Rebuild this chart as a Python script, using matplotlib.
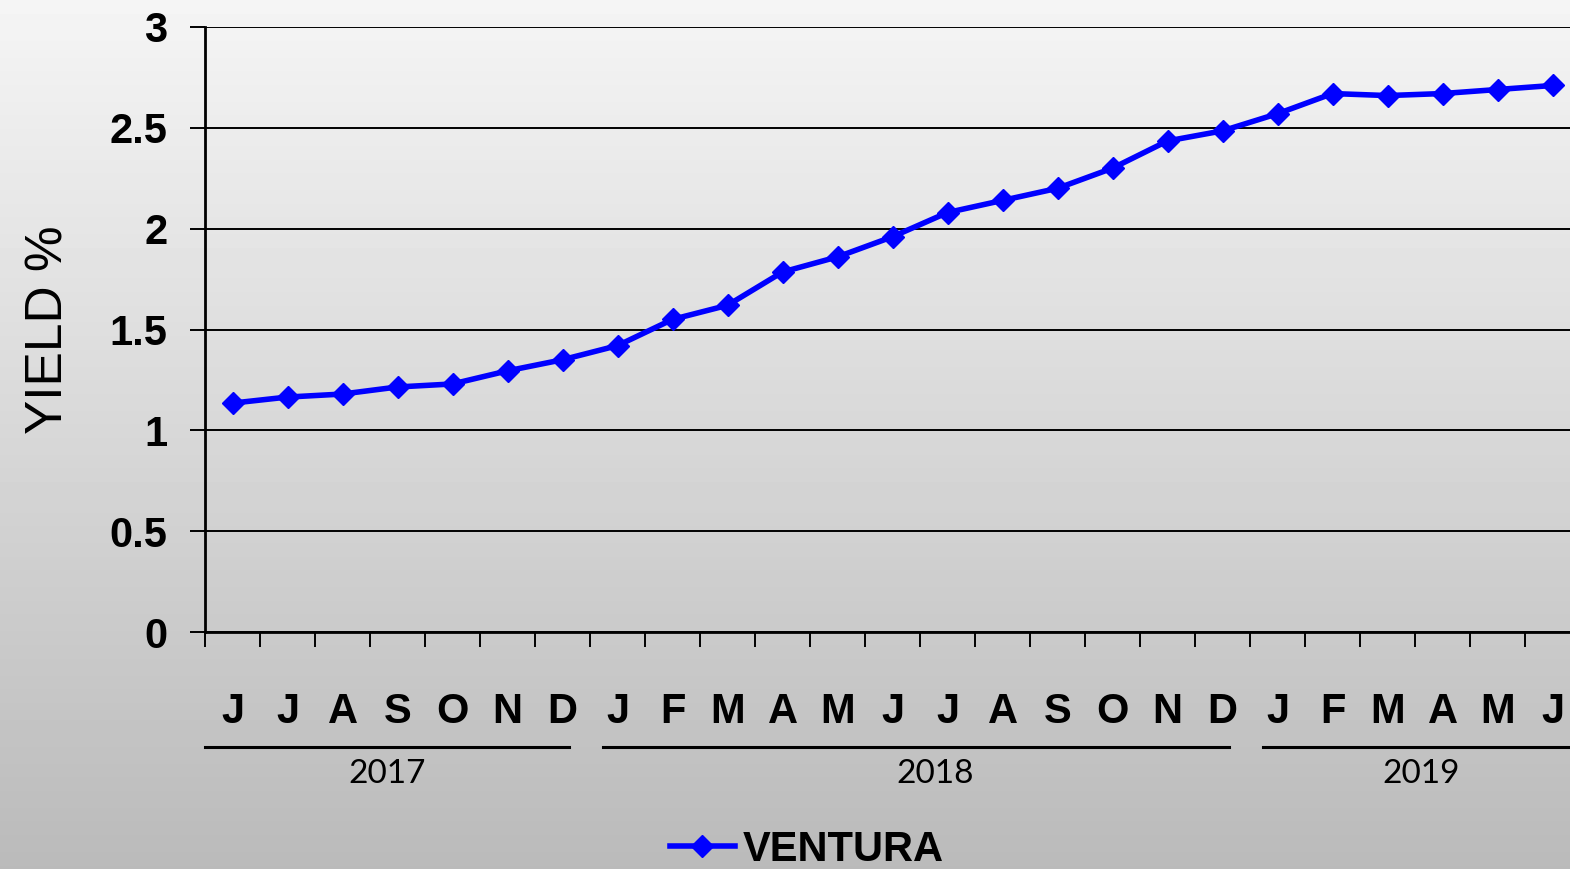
import numpy as np
import matplotlib
matplotlib.use('Agg')
import matplotlib.pyplot as plt
from matplotlib.lines import Line2D

months = ['J', 'J', 'A', 'S', 'O', 'N', 'D',
          'J', 'F', 'M', 'A', 'M', 'J', 'J', 'A', 'S', 'O', 'N', 'D',
          'J', 'F', 'M', 'A', 'M', 'J']
ventura = [1.135, 1.165, 1.18, 1.215, 1.23, 1.295, 1.35,
           1.42, 1.55, 1.62, 1.785, 1.86, 1.96, 2.08, 2.14, 2.20, 2.30, 2.435, 2.485,
           2.57, 2.67, 2.66, 2.67, 2.69, 2.71]
years = ['2017', '2018', '2019']
year_first = [0, 7, 19]
year_last = [6, 18, 24]

W, H = 1570, 869
fig = plt.figure(figsize=(W / 100, H / 100), dpi=100)

# gradient background
bg = fig.add_axes([0, 0, 1, 1], zorder=-10)
grad = np.linspace(0.96, 0.73, 256).reshape(-1, 1)
bg.imshow(grad, aspect='auto', cmap='gray', vmin=0, vmax=1,
          extent=[0, 1, 0, 1], origin='upper')
bg.axis('off')

left, right, top, bottom = 205, 1580, 27, 632
ax = fig.add_axes([left / W, 1 - bottom / H, (right - left) / W, (bottom - top) / H])
ax.patch.set_alpha(0)

x = np.arange(len(ventura))
ax.plot(x, ventura, color='#0000ff', lw=4, marker='D', markersize=11,
        zorder=3, clip_on=False)

ax.set_xlim(-0.5, len(ventura) - 0.5)
ax.set_ylim(0, 3)
ax.set_yticks(np.arange(0, 3.01, 0.5))
ax.set_yticklabels(['0', '0.5', '1', '1.5', '2', '2.5', '3'],
                   fontfamily='Liberation Sans', fontweight='bold', fontsize=30)
ax.yaxis.grid(True, color='black', lw=1.4)
ax.tick_params(axis='y', length=11, width=1.4, pad=16, color='black')

ax.set_xticks(np.arange(-0.5, len(ventura), 1.0))
ax.set_xticklabels([])
ax.tick_params(axis='x', which='major', length=11, width=1.4, color='black')
ax.set_xticks(x, minor=True)
ax.set_xticklabels(months, minor=True, fontfamily='Liberation Sans',
                   fontweight='bold', fontsize=30)
ax.tick_params(axis='x', which='minor', length=0, pad=43)

for s in ['top', 'right']:
    ax.spines[s].set_visible(False)
ax.spines['left'].set_linewidth(2)
ax.spines['bottom'].set_linewidth(2)
ax.spines['left'].set_bounds(0, 3)

ax.set_ylabel('YIELD %', fontfamily='Liberation Sans', fontsize=37, labelpad=26)

trans = ax.get_xaxis_transform()
for i, yr in enumerate(years):
    x0 = -0.5 if i == 0 else year_first[i] - 0.27
    x1 = min(year_last[i] + 0.12, len(ventura) - 0.5)
    if i == len(years) - 1:
        x1 = len(ventura) - 0.5
    ax.plot([x0, x1], [-0.19, -0.19], color='black', lw=2.2,
            transform=trans, clip_on=False)
    ax.text((x0 + x1) / 2 + (0.35 if i == 1 else 0), -0.234, yr, transform=trans,
            ha='center', va='center', fontsize=24, fontfamily='Lato')

handle = Line2D([], [], color='#0000ff', lw=4, marker='D', markersize=11)
fig.legend([handle], ['VENTURA'], loc='center', bbox_to_anchor=(0.514, 0.022),
           frameon=False, handlelength=1.55, handletextpad=0.2,
           prop={'family': 'Liberation Sans', 'weight': 'bold', 'size': 30})

fig.savefig('out.png', dpi=100)
